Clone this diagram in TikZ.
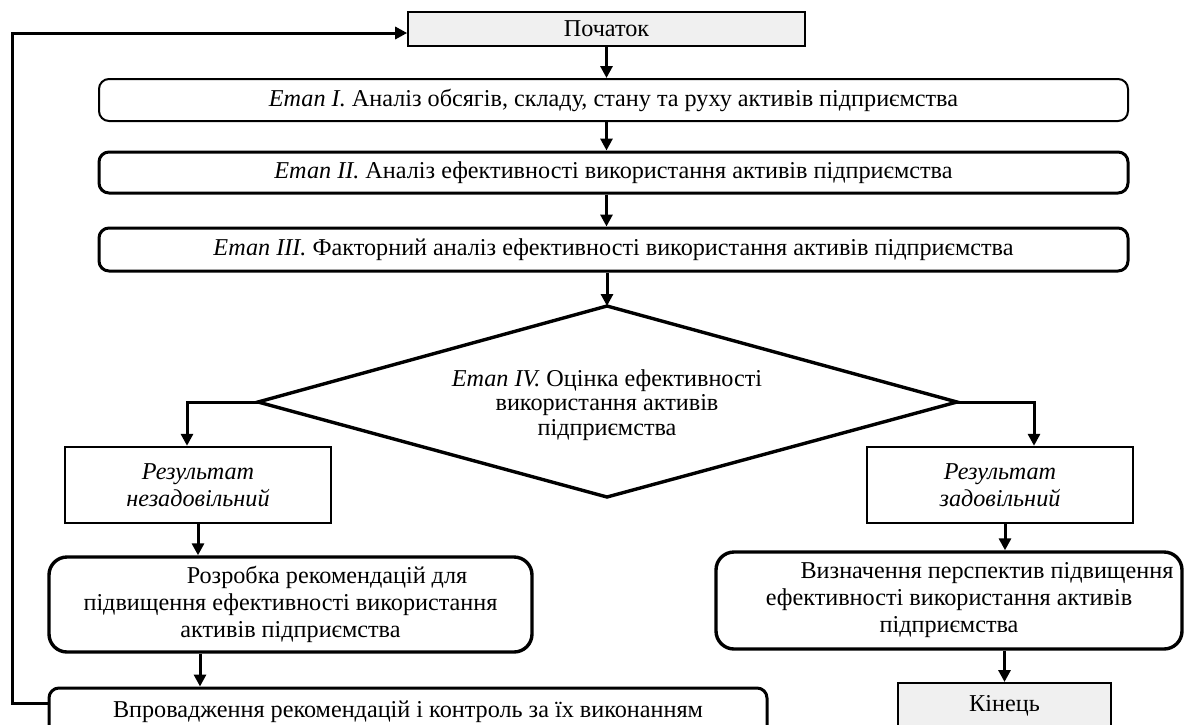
\documentclass[tikz,border=0pt]{standalone}
\usepackage{fontspec}
\setmainfont{Liberation Serif}
\usetikzlibrary{arrows.meta}
\definecolor{boxgray}{HTML}{F0F0F0}
\begin{document}
\begin{tikzpicture}[x=1pt,y=-1pt,
  every node/.style={font=\fontsize{24.2}{27}\selectfont, inner sep=0pt, align=center},
  termbox/.style={draw, fill=boxgray, line width=1.6pt},
  stagebox/.style={draw, rounded corners=10pt, line width=2pt},
  stageboxb/.style={draw, rounded corners=10pt, line width=3pt},
  resbox/.style={draw, line width=2.4pt},
  actbox/.style={draw, rounded corners=18pt, line width=3.4pt},
  arr/.style={line width=3pt, -{Triangle[length=12pt,width=12pt]}}
]
\useasboundingbox (0,0) rectangle (1185,724);
\clip (0,0) rectangle (1185,724);

\node[termbox, minimum width=397pt, minimum height=34pt] (start) at (606.5,29) {Початок};
\node[stagebox, minimum width=1029pt, minimum height=42pt] (e1) at (613.5,100)
  {\textit{Етап І.} Аналіз обсягів, складу, стану та руху активів підприємства};
\node[stageboxb, minimum width=1029pt, minimum height=41pt] (e2) at (613.5,172.5)
  {\textit{Етап ІІ.} Аналіз ефективності використання активів підприємства};
\node[stageboxb, minimum width=1029pt, minimum height=43pt] (e3) at (613.5,249.5)
  {\textit{Етап ІІІ.} Факторний аналіз ефективності використання активів підприємства};

\coordinate (dtop) at (607,306);
\coordinate (dleft) at (258,402);
\coordinate (dright) at (957,402);
\coordinate (dbot) at (607,497);
\draw[line width=3.4pt, line join=miter] (dtop) -- (dright) -- (dbot) -- (dleft) -- cycle;
\node[font=\fontsize{24.2}{24.5}\selectfont] (d) at (607,405)
  {\textit{Етап IV.} Оцінка ефективності\\використання активів\\підприємства};

\node[resbox, minimum width=266pt, minimum height=76pt] (rbad) at (198,485)
  {\textit{Результат}\\\textit{незадовільний}};
\node[resbox, minimum width=266pt, minimum height=76pt] (rgood) at (1000,485)
  {\textit{Результат}\\\textit{задовільний}};

\node[actbox, minimum width=483pt, minimum height=95pt] (rec) at (290.5,604.5)
  {\hspace*{73pt}Розробка рекомендацій для\\підвищення ефективності використання\\активів підприємства};
\node[actbox, minimum width=466pt, minimum height=97pt] (pers) at (949,600.5)
  {\hspace*{76pt}Визначення перспектив підвищення\\ефективності використання активів\\підприємства};

\node[stageboxb, minimum width=718pt, minimum height=48pt] (impl) at (408,712)
  {Впровадження рекомендацій і контроль за їх виконанням};
\node[resbox, line width=2pt, fill=boxgray, minimum width=213pt, minimum height=46pt] (end) at (1004.5,706)
  {Кінець};

\coordinate (lt) at (12,33);

\draw[arr] (start.south) -- (start.south |- e1.north);
\draw[arr] (start.south |- e1.south) -- (start.south |- e2.north);
\draw[arr] (start.south |- e2.south) -- (start.south |- e3.north);
\draw[arr] (dtop |- e3.south) -- (dtop);
\draw[arr] (dleft) -| ([xshift=-11pt]rbad.north);
\draw[arr] (dright) -| ([xshift=34pt]rgood.north);
\draw[arr] (rbad.south) -- (rbad.south |- rec.north);
\draw[arr] ([xshift=2pt]rbad.south |- rec.south) -- ([xshift=2pt]rbad.south |- impl.north);
\draw[arr] ([xshift=5pt]rgood.south) -- ([xshift=5pt]rgood.south |- pers.north);
\draw[arr] (end.north |- pers.south) -- (end.north);
\draw[arr] ([yshift=9pt]impl.west) -| (lt) -- (start.west |- lt);
\end{tikzpicture}
\end{document}
